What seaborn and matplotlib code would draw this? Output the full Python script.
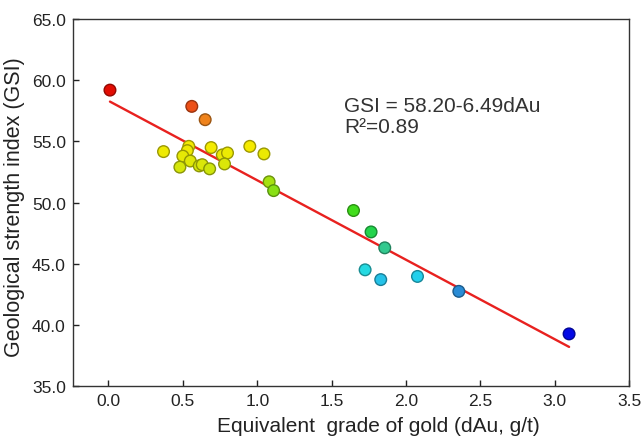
import numpy as np
import pandas as pd
import seaborn as sns
from matplotlib import pyplot as plt
from matplotlib.colors import LinearSegmentedColormap

# %% data

dAu = [0.01, 0.56, 0.65, 0.37, 0.54, 0.53, 0.50, 0.55, 0.48, 0.61,
       0.63, 0.68, 0.69, 0.765, 0.80, 0.78, 0.95, 1.045, 1.08, 1.11,
       1.647, 1.765, 1.857, 1.725, 1.83, 2.077, 2.355, 3.096]
GSI = [59.2, 57.87, 56.78, 54.17, 54.6, 54.25, 53.8, 53.4, 52.9, 53.0,
       53.1, 52.76, 54.5, 53.9, 54.06, 53.16, 54.6, 53.98, 51.7, 50.98,
       49.35, 47.6, 46.3, 44.5, 43.7, 43.96, 42.74, 39.26]

dfData = pd.DataFrame({'dAu': dAu, 'GSI': GSI})

xTicks = [0.0, 0.5, 1.0, 1.5, 2.0, 2.5, 3.0, 3.5]
yTicks = [35.0, 40.0, 45.0, 50.0, 55.0, 60.0, 65.0]

# rainbow-ish map, blue (low GSI) to red (high GSI)
cmap = LinearSegmentedColormap.from_list('gsi', [
    (0.00, '#0000e6'),
    (0.18, '#2a8cd6'),
    (0.25, '#22dcf0'),
    (0.36, '#34c88c'),
    (0.46, '#18dc20'),
    (0.60, '#96e014'),
    (0.68, '#d6e60a'),
    (0.76, '#f5eb00'),
    (0.88, '#ee7a1e'),
    (0.93, '#ec4614'),
    (1.00, '#e00000'),
])

# %% plot

sns.set_style('ticks')
plt.rcParams['font.family'] = ['Liberation Sans', 'DejaVu Sans']

fig = plt.figure(figsize=(6.44, 4.39), dpi=100)
ax = fig.add_axes([0.113, 0.1185, 0.864, 0.8355])

sns.regplot(data=dfData, x='dAu', y='GSI', scatter=False, ci=None,
            truncate=True, color='#e8211f', line_kws={'linewidth': 1.7},
            ax=ax)
sns.scatterplot(data=dfData, x='dAu', y='GSI', hue='GSI', palette=cmap,
                hue_norm=(39.0, 59.5), s=70, linewidth=1.0, legend=False,
                ax=ax, zorder=3)

coll = ax.collections[-1]
fc = coll.get_facecolors()
ec = fc.copy()
ec[:, :3] = ec[:, :3] * 0.65
coll.set_edgecolors(ec)

ax.set_xlim(-0.24, 3.5)
ax.set_ylim(35, 65)
ax.set_xticks(xTicks)
ax.set_yticks(yTicks)
ax.set_xticklabels([f'{t:.1f}' for t in xTicks])
ax.set_yticklabels([f'{t:.1f}' for t in yTicks])
ax.tick_params(direction='in', length=4, width=1, labelsize=12.5,
               colors='#222222', pad=5)
for sp in ax.spines.values():
    sp.set_visible(True)
    sp.set_linewidth(1.0)
    sp.set_color('#333333')

ax.set_xlabel('Equivalent  grade of gold (dAu, g/t)', fontsize=15,
              color='#222222')
ax.set_ylabel('Geological strength index (GSI)', fontsize=15.5,
              color='#222222')
ax.xaxis.set_label_coords(0.55, -0.083)
ax.yaxis.set_label_coords(-0.086, 0.49)

ax.text(0.488, 0.766, 'GSI = 58.20-6.49dAu', transform=ax.transAxes,
        fontsize=15, va='center', ha='left', color='#333333')
ax.text(0.488, 0.708, 'R\u00b2=0.89', transform=ax.transAxes,
        fontsize=15, va='center', ha='left', color='#333333')

fig.savefig('out.png', dpi=100)
